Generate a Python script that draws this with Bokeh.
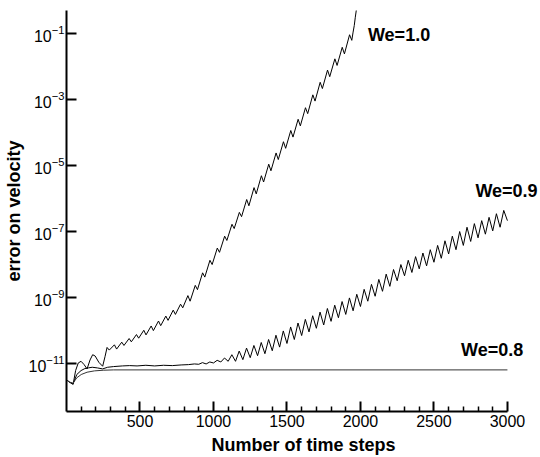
from bokeh.plotting import figure
from bokeh.models import FixedTicker, Label, Range1d, LogTickFormatter
from bokeh.embed import file_html
from bokeh.resources import INLINE

# ---- data (x = time step, y given as log10 of the velocity error) ----
x_we10 = [0, 20, 45, 62, 80, 99, 120, 140, 160, 178, 195, 220, 246, 262, 276,
          291, 326, 341, 376, 391, 426, 441, 476, 491, 526, 541, 576, 591, 626,
          641, 676, 691, 726, 741, 776, 791, 826, 841, 876, 891, 926, 941, 976,
          991, 1026, 1041, 1076, 1091, 1126, 1141, 1176, 1191, 1226, 1241, 1276,
          1291, 1326, 1341, 1376, 1391, 1426, 1441, 1476, 1491, 1526, 1541, 1576,
          1591, 1626, 1641, 1676, 1691, 1726, 1741, 1776, 1791, 1826, 1841, 1876,
          1891, 1926, 1941, 1950, 1958, 1965, 1972]
log_we10 = [-11.48, -11.55, -11.62, -11.20, -10.97, -10.92, -11.02, -11.15, -10.88,
            -10.72, -10.76, -10.95, -11.07, -10.78, -10.50,
            -10.58, -10.42, -10.55, -10.34, -10.44, -10.23, -10.33, -10.11, -10.22,
            -9.98, -10.12, -9.85, -9.99, -9.70, -9.84, -9.55, -9.68, -9.37, -9.50,
            -9.19, -9.30, -8.93, -9.10, -8.62, -8.75, -8.24, -8.37, -7.86, -7.99,
            -7.49, -7.62, -7.13, -7.26, -6.77, -6.90, -6.41, -6.54, -6.02, -6.21,
            -5.66, -5.85, -5.30, -5.49, -4.95, -5.15, -4.61, -4.81, -4.27, -4.47,
            -3.93, -4.13, -3.59, -3.79, -3.24, -3.42, -2.85, -3.04, -2.47, -2.66,
            -2.10, -2.30, -1.76, -1.96, -1.41, -1.61, -1.03, -1.20, -0.95, -0.75,
            -0.50, -0.28]

x_we09 = [0, 20, 45, 70, 99, 125, 148, 175, 210, 246, 280, 320, 380, 430, 480,
          540, 600, 660, 720, 780, 830, 870, 900, 925, 950, 975, 1000,
          1025, 1050, 1075, 1100, 1125, 1150, 1175, 1200, 1225, 1250, 1275, 1300,
          1325, 1350, 1375, 1400, 1425, 1450, 1475, 1500, 1525, 1550, 1575, 1600,
          1625, 1650, 1675, 1700, 1725, 1750, 1775, 1800, 1825, 1850, 1875, 1900,
          1925, 1950, 1975, 2000, 2025, 2050, 2075, 2100, 2125, 2150, 2175, 2200,
          2225, 2250, 2275, 2300, 2325, 2350, 2375, 2400, 2425, 2450, 2475, 2500,
          2525, 2550, 2575, 2600, 2625, 2650, 2675, 2700, 2725, 2750, 2775, 2800,
          2825, 2850, 2875, 2900, 2925, 2950, 2975, 3000]
log_we09 = [-11.48, -11.55, -11.60, -11.32, -11.20, -11.14, -11.12, -11.10, -11.12,
            -11.15, -11.10, -11.08, -11.06, -11.05, -11.06, -11.04, -11.06, -11.04,
            -11.05, -11.03, -11.02, -11.00, -11.01, -10.96, -11.00, -10.94, -10.97,
            -10.89, -10.94, -10.82, -10.92, -10.72, -10.92, -10.61, -10.87, -10.52,
            -10.81, -10.44, -10.75, -10.35, -10.69, -10.26, -10.60, -10.13, -10.49,
            -10.00, -10.38, -9.88, -10.26, -9.76, -10.14, -9.65, -10.03, -9.54,
            -9.92, -9.43, -9.82, -9.32, -9.71, -9.22, -9.60, -9.11, -9.50, -9.00,
            -9.39, -8.89, -9.26, -8.74, -9.10, -8.59, -8.95, -8.44, -8.80, -8.28,
            -8.65, -8.14, -8.48, -7.99, -8.33, -7.86, -8.23, -7.75, -8.12, -7.64,
            -8.03, -7.54, -7.92, -7.41, -7.80, -7.27, -7.67, -7.13, -7.54, -6.99,
            -7.41, -6.86, -7.29, -6.75, -7.18, -6.66, -7.07, -6.56, -6.97, -6.45,
            -6.86, -6.35, -6.66]

x_we08 = [0, 20, 45, 70, 100, 140, 190, 250, 320, 3000]
log_we08 = [-11.48, -11.55, -11.58, -11.42, -11.32, -11.25, -11.21, -11.19, -11.18, -11.18]

x_ticks = [500, 1000, 1500, 2000, 2500, 3000]
x_minor = [100, 200, 300, 400, 600, 700, 800, 900, 1100, 1200, 1300, 1400, 1600,
           1700, 1800, 1900, 2100, 2200, 2300, 2400, 2600, 2700, 2800, 2900]
y_tick_exps = [-11, -9, -7, -5, -3, -1]

FONT = "Liberation Sans"

p = figure(width=540, height=457,
           x_range=Range1d(0, 3225),
           y_range=Range1d(10 ** -12.44, 10 ** -0.296),
           y_axis_type="log",
           output_backend="svg", toolbar_location=None,
           min_border_left=66, min_border_right=0,
           min_border_top=10, min_border_bottom=45)
p.background_fill_color = "white"
p.border_fill_color = "white"
p.outline_line_color = None
p.grid.visible = False

p.line(x_we10, [10 ** v for v in log_we10], line_color="black", line_width=1)
p.line(x_we09, [10 ** v for v in log_we09], line_color="black", line_width=1)
p.line(x_we08, [10 ** v for v in log_we08], line_color="#333333", line_width=1)

xa = p.xaxis[0]
ya = p.yaxis[0]
xa.ticker = FixedTicker(ticks=x_ticks, minor_ticks=x_minor)
xa.bounds = (0, 3000)
ya.ticker = FixedTicker(ticks=[10.0 ** e for e in y_tick_exps], minor_ticks=[])
ya.formatter = LogTickFormatter()
xa.axis_label = "Number of time steps"
ya.axis_label = "error on velocity"

for ax in (xa, ya):
    ax.axis_line_width = 2
    ax.axis_line_color = "black"
    ax.major_tick_line_width = 2
    ax.major_tick_line_color = "black"
    ax.major_tick_in = 10
    ax.major_tick_out = 0
    ax.minor_tick_line_width = 1.5
    ax.minor_tick_line_color = "black"
    ax.minor_tick_in = 5
    ax.minor_tick_out = 0
    ax.major_label_text_font = FONT
    ax.major_label_text_font_size = "16px"
    ax.major_label_text_color = "black"
    ax.axis_label_text_font = FONT
    ax.axis_label_text_font_size = "18px"
    ax.axis_label_text_font_style = "bold"
    ax.axis_label_text_color = "black"

xa.major_label_standoff = 3
xa.axis_label_standoff = 5
ya.major_label_standoff = 2
ya.axis_label_standoff = 2

for txt, lx, ly in (("We=1.0", 2051, 10 ** -1.05),
                    ("We=0.9", 2782, 10 ** -5.76),
                    ("We=0.8", 2684, 10 ** -10.57)):
    p.add_layout(Label(x=lx, y=ly, text=txt, text_font=FONT,
                       text_font_size="18px", text_font_style="bold",
                       text_baseline="middle", text_color="black"))

open("out.html", "w").write(file_html(p, INLINE))
